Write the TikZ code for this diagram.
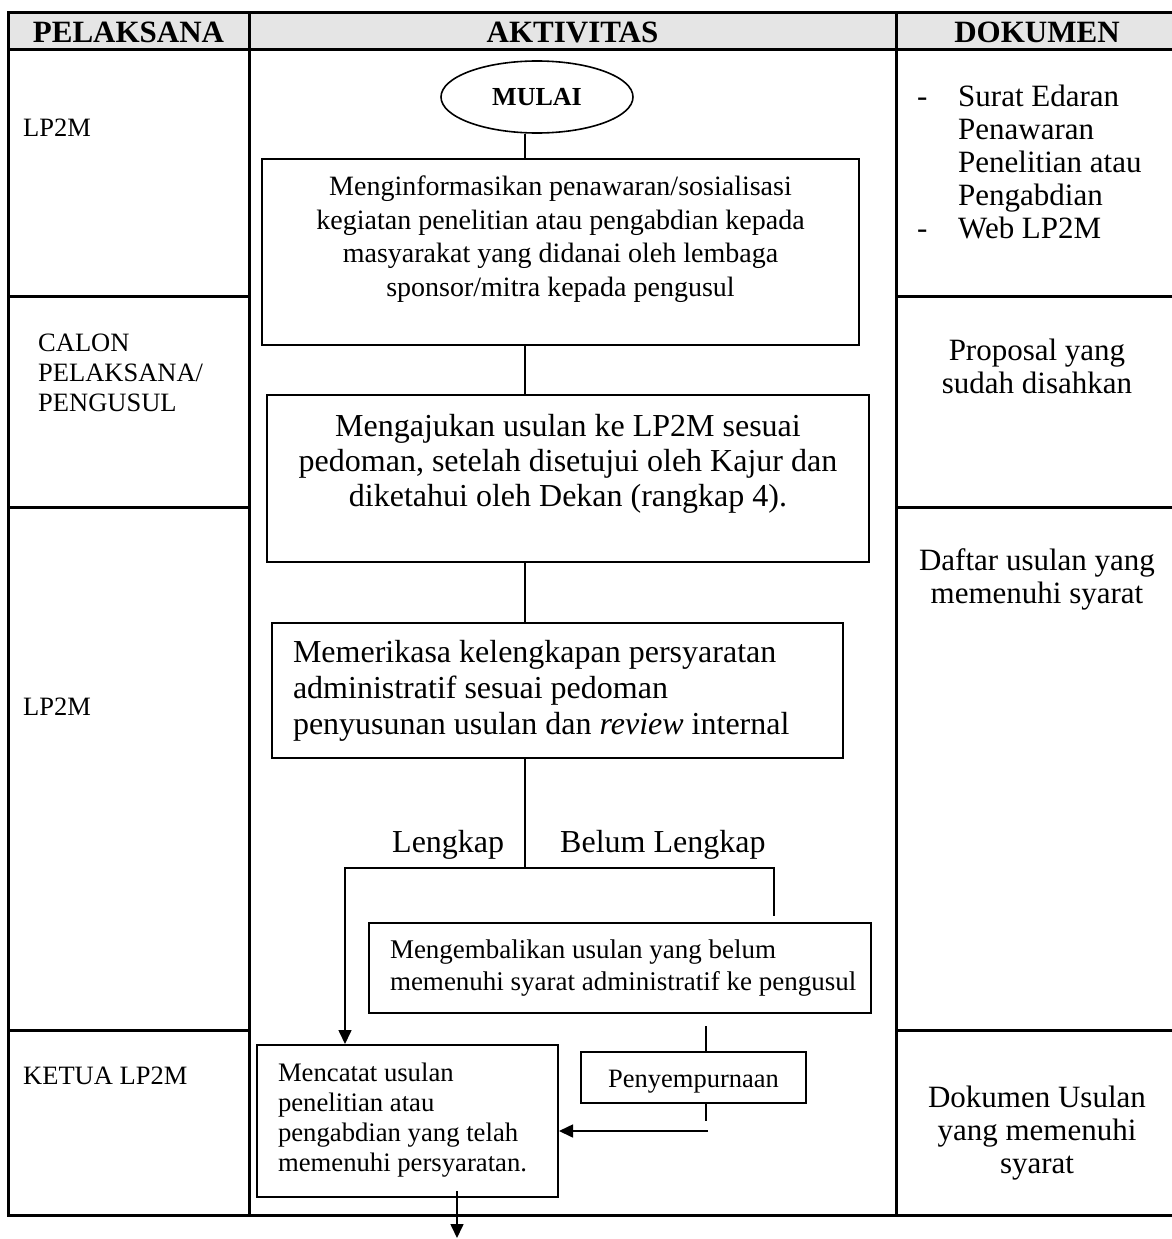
\documentclass[tikz,border=0pt]{standalone}
\usepackage{fontspec}
\setmainfont{Liberation Serif}
\usetikzlibrary{shapes.geometric,arrows.meta,calc}

% text blocks of fixed size: width, height, space above the first line, lines
\newcommand{\fbc}[4]{\parbox[c][#2][t]{#1}{\vspace*{#3}\centering\strut #4\par}}
\newcommand{\fbl}[4]{\parbox[c][#2][t]{#1}{\vspace*{#3}\leftskip=21pt\rightskip=0pt plus 1fil\relax\strut #4\par}}

\begin{document}
\begin{tikzpicture}[x=1pt,y=-1pt,
  tbl/.style={line width=3pt},
  flowbox/.style={draw, line width=2pt, rectangle, inner sep=0pt},
  conn/.style={line width=1.6pt},
  arr/.style={conn, -{Triangle[length=14pt,width=13pt]}},
  hdr/.style={font=\bfseries\fontsize{31}{35}\selectfont, inner sep=0pt},
  who/.style={anchor=west, align=left, inner sep=0pt, font=\fontsize{26.5}{30}\selectfont},
  doc/.style={align=center, inner sep=0pt, font=\fontsize{31}{33}\selectfont},
  branch/.style={anchor=base west, inner sep=0pt, font=\fontsize{32}{35}\selectfont},
]
\useasboundingbox (0,0) rectangle (1172,1239);

% table frame
\fill[black!10] (8,13) rectangle (1180,50);
\draw[tbl] (1180,13) -- (8,13) -- (8,1215) -- (1180,1215);
\draw[tbl] (8,50) -- (1180,50);
\draw[tbl] (249,13) -- (249,1215);
\draw[tbl] (896,13) -- (896,1215);
\foreach \r in {296,507,1030} {
  \draw[tbl] (8,\r) -- (249,\r);
  \draw[tbl] (896,\r) -- (1180,\r);
}

% headings
\node[hdr] (hp) at (128.5,32) {PELAKSANA};
\node[hdr] (ha) at (572.5,32) {AKTIVITAS};
\node[hdr] (hd) at (1037,32) {DOKUMEN};

% actors
\node[who] (w1) at (23,128) {LP2M};
\node[who] (w2) at (38,373) {CALON\\PELAKSANA/\\PENGUSUL};
\node[who] (w3) at (23,707) {LP2M};
\node[who] (w4) at (23,1076) {KETUA LP2M};

% documents
\node[anchor=west, inner sep=0pt, font=\fontsize{31}{33}\selectfont] (d1) at (917,166)
  {\begin{tabular}{@{}p{41pt}@{}l@{}}-&Surat Edaran\\&Penawaran\\&Penelitian atau\\&Pengabdian\\-&Web LP2M\end{tabular}};
\node[doc] (d2) at (1037,366) {Proposal yang\\sudah disahkan};
\node[doc] (d3) at (1037,579) {Daftar usulan yang\\memenuhi syarat};
\node[doc] (d4) at (1037,1133) {Dokumen Usulan\\yang memenuhi\\syarat};

% activities
\node[draw, ellipse, line width=1.6pt, minimum width=192pt, minimum height=72pt, inner sep=0pt,
      font=\bfseries\fontsize{26}{30}\selectfont] (mulai) at (537,97) {MULAI};
\node[flowbox, font=\fontsize{28}{33.5}\selectfont] (b1) at (560.5,252)
  {\fbc{597pt}{186pt}{13.5pt}{Menginformasikan penawaran/sosialisasi\\kegiatan penelitian atau pengabdian kepada\\masyarakat yang didanai oleh lembaga\\sponsor/mitra kepada pengusul}};
\node[flowbox, font=\fontsize{32}{35}\selectfont] (b2) at (568,478.5)
  {\fbc{602pt}{167pt}{16.5pt}{Mengajukan usulan ke LP2M sesuai\\pedoman, setelah disetujui oleh Kajur dan\\diketahui oleh Dekan (rangkap 4).}};
\node[flowbox, font=\fontsize{32}{36}\selectfont] (b3) at (557.5,690.5)
  {\fbl{571pt}{135pt}{13.8pt}{Memerikasa kelengkapan persyaratan\\administratif sesuai pedoman\\penyusunan usulan dan \textit{review} internal}};
\node[flowbox, font=\fontsize{27}{32}\selectfont] (kembali) at (620,968)
  {\fbl{502pt}{90pt}{12.6pt}{Mengembalikan usulan yang belum\\memenuhi syarat administratif ke pengusul}};
\node[flowbox, font=\fontsize{26.7}{30}\selectfont] (mencatat) at (407.5,1121)
  {\fbl{301pt}{152pt}{15pt}{Mencatat usulan\\penelitian atau\\pengabdian yang telah\\memenuhi persyaratan.}};
\node[flowbox, font=\fontsize{26.5}{30}\selectfont] (peny) at (693.5,1077.5)
  {\fbc{225pt}{51pt}{14pt}{Penyempurnaan}};

\node[branch] (yes) at (392,852) {Lengkap};
\node[branch] (no) at (560,852) {Belum Lengkap};

% connectors
\coordinate (spine) at (525,0);
\draw[conn] (mulai.south -| spine) -- (b1.north -| spine);
\draw[conn] (b1.south -| spine) -- (b2.north -| spine);
\draw[conn] (b2.south -| spine) -- (b3.north -| spine);
\coordinate (split) at (525,868);
\draw[conn] (b3.south -| spine) -- (split);
\coordinate (lk) at (345,868);
\coordinate (bl) at (774,868);
\draw[arr] (split) -- (lk) -- (lk |- mencatat.north);
\draw[conn] (split) -- (bl) -- ($(bl |- kembali.north)+(0,-6)$);
\coordinate (pcol) at (706,0);
\draw[conn] ($(kembali.south -| pcol)+(0,12)$) -- (peny.north -| pcol);
\draw[conn] (peny.south -| pcol) -- ++(0,17);
\coordinate (ret) at ($(peny.south -| pcol)+(2,27)$);
\draw[arr] (ret) -- (ret -| mencatat.east);
\coordinate (fin) at (457,1238);
\draw[arr] ($(mencatat.south -| fin)+(0,-7)$) -- (fin);
\end{tikzpicture}
\end{document}
